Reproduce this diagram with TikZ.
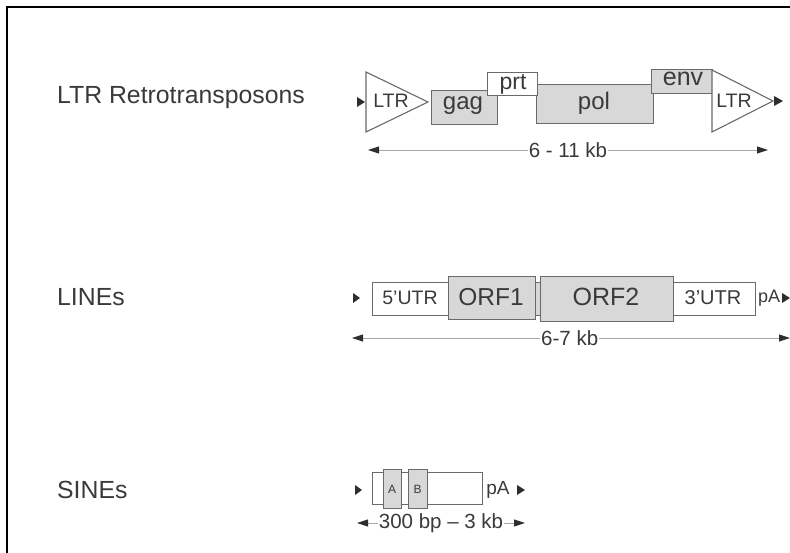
\documentclass[tikz,border=0pt]{standalone}
\usepackage{fontspec}
\setmainfont{Liberation Sans}
\usetikzlibrary{arrows.meta}
\definecolor{txt}{HTML}{3A3A3A}
\definecolor{edge}{HTML}{6A6A6A}
\definecolor{boxfill}{HTML}{D8D8D8}
\definecolor{dimc}{HTML}{A8A8A8}
\definecolor{tipc}{HTML}{2E2E2E}
\newcommand{\fs}[1]{\fontsize{#1}{#1}\selectfont}
\newcommand{\apo}{{\char"0027}}
\begin{document}
\begin{tikzpicture}[x=1pt,y=-1pt,
  box/.style={draw=edge, line width=1.1pt, inner sep=0pt, text=txt, anchor=north west, fill=white},
  grey/.style={box, fill=boxfill},
  lbl/.style={text=txt, inner sep=0pt},
  side/.style={text=txt, inner sep=0pt, anchor=west, font=\fs{24.8}},
  dim/.style={draw=dimc, line width=0.9pt, {Triangle[length=11pt,width=7pt,color=tipc]}-{Triangle[length=11pt,width=7pt,color=tipc]}},
  dimlbl/.style={fill=white, text=txt, inner sep=1pt, font=\fs{20.5}},
  tri/.style={draw=edge, line width=1.1pt, fill=white}]
\useasboundingbox (0,0) rectangle (790,553);
% frame
\draw[black, line width=2pt] (7,553) -- (7,7) -- (790,7);

% side labels
\node[side] (ltrname) at (57,98) {LTR Retrotransposons};
\node[side] (linename) at (57,297) {LINEs};
\node[side] (sinename) at (57,490) {SINEs};

% ---------- LTR retrotransposon ----------
\fill[tipc] (357,97) -- (365,102) -- (357,107) -- cycle;
\draw[tri] (366,72) -- (428,102) -- (366,132) -- cycle;
\node[lbl, font=\fs{19.5}] (ltrL) at (391,101) {LTR};
\node[grey, minimum width=66pt, minimum height=34pt] (gag) at (431,90) {};
\node[lbl, font=\fs{24}] at (463,106) {gag};
\node[grey, minimum width=117pt, minimum height=39pt] (pol) at (536,84) {};
\node[lbl, font=\fs{24}] at (594,103) {pol};
\node[box, minimum width=50pt, minimum height=23pt] (prt) at (487,72) {};
\node[lbl, font=\fs{23}] at (513,84) {prt};
\node[grey, minimum width=61pt, minimum height=24pt] (env) at (651,69) {};
\node[lbl, font=\fs{25}] at (683,79) {env};
\draw[tri] (712,70) -- (773,101) -- (712,132) -- cycle;
\node[lbl, font=\fs{19.5}] (ltrR) at (734,101) {LTR};
\fill[tipc] (774,96) -- (783,101) -- (774,106) -- cycle;
\coordinate (d1l) at (368,150);
\coordinate (d1r) at (768,150);
\draw[dim] (d1l) -- (d1r) node[dimlbl, midway] (d1) {6 - 11 kb};

% ---------- LINE ----------
\fill[tipc] (353,293) -- (360,298) -- (353,303) -- cycle;
\node[box, minimum width=76pt, minimum height=33pt] (utr5) at (372,282) {};
\node[lbl, font=\fs{19.5}] at (410,298) {5\apo UTR};
\node[grey, minimum width=5pt, minimum height=33pt] (link) at (535,282) {};
\node[grey, minimum width=87pt, minimum height=43pt] (orf1) at (448,276) {};
\node[lbl, font=\fs{24.5}] at (491,297) {ORF1};
\node[grey, minimum width=133pt, minimum height=45pt] (orf2) at (540,276) {};
\node[lbl, font=\fs{25}] at (606,297) {ORF2};
\node[box, minimum width=82pt, minimum height=33pt] (utr3) at (673,282) {};
\node[lbl, font=\fs{20}] at (713,298) {3\apo UTR};
\node[lbl, font=\fs{18}] (pa1) at (769,298) {pA};
\fill[tipc] (782,293) -- (790,298) -- (782,303) -- cycle;
\coordinate (d2l) at (352,338);
\coordinate (d2r) at (790,338);
\draw[dim] (d2l) -- (d2r) node[dimlbl, pos=0.497] (d2) {6-7 kb};

% ---------- SINE ----------
\fill[tipc] (355,485) -- (362,490) -- (355,495) -- cycle;
\node[box, minimum width=110pt, minimum height=32pt] (sine) at (372,472) {};
\node[grey, minimum width=18pt, minimum height=39pt] (boxA) at (383,469) {};
\node[lbl, font=\fs{12}] at (392,489) {A};
\node[grey, minimum width=19pt, minimum height=39pt] (boxB) at (408,469) {};
\node[lbl, font=\fs{12}] at (417.5,489) {B};
\node[lbl, font=\fs{19}] (pa2) at (498,490) {pA};
\fill[tipc] (517,485) -- (525,490) -- (517,495) -- cycle;
\coordinate (d3l) at (357,523);
\coordinate (d3r) at (525,523);
\draw[dim] (d3l) -- (d3r) node[dimlbl, midway] (d3) {300 bp – 3 kb};
\end{tikzpicture}
\end{document}
